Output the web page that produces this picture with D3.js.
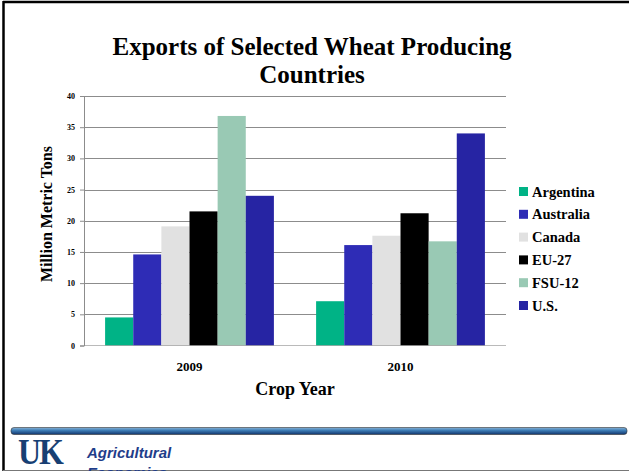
<!DOCTYPE html>
<html>
<head>
<meta charset="utf-8">
<script src="https://cdn.jsdelivr.net/npm/d3@7/dist/d3.min.js"></script>
<style>
  html, body { margin: 0; padding: 0; background: #fff; overflow: hidden; }
  svg { display: block; }
</style>
</head>
<body>
<svg id="chart" width="629" height="471"></svg>
<script>
// Wheat exports by crop year, million metric tons
const years = ["2009", "2010"];
const countries = ["Argentina", "Australia", "Canada", "EU-27", "FSU-12", "U.S."];
const exports2009 = [4.5, 14.6, 19.1, 21.5, 36.8, 24.0];
const exports2010 = [7.1, 16.1, 17.6, 21.2, 16.7, 34.0];
const yTicks = [0, 5, 10, 15, 20, 25, 30, 35, 40];
const colors = ["#00b386", "#2e2cb6", "#e1e1e1", "#000000", "#99c9b4", "#2624a3"];

const seriesByYear = { "2009": exports2009, "2010": exports2010 };

const svg = d3.select("#chart");
const serif = "'Liberation Serif', 'Times New Roman', serif";
const sans = "'Liberation Sans', Arial, sans-serif";

// Slide frame
svg.append("line").attr("x1", 3).attr("x2", 629).attr("y1", 2).attr("y2", 2)
  .attr("stroke", "#000").attr("stroke-width", 2.5);
svg.append("line").attr("x1", 3.5).attr("x2", 3.5).attr("y1", 1).attr("y2", 471)
  .attr("stroke", "#000").attr("stroke-width", 2.5);
svg.append("line").attr("x1", 3).attr("x2", 629).attr("y1", 470.5).attr("y2", 470.5)
  .attr("stroke", "#777").attr("stroke-width", 1);

// Plot area
const plot = { left: 84, right: 506, top: 96, bottom: 345.5 };

const y = d3.scaleLinear().domain([0, 40]).range([plot.bottom, plot.top]);
const x0 = d3.scaleBand().domain(years).range([plot.left, plot.right]).paddingInner(0.2).paddingOuter(0.1);
const x1 = d3.scaleBand().domain(countries).range([0, x0.bandwidth()]).padding(0);

// Gridlines
svg.append("g").selectAll("line").data(yTicks.filter(d => d > 0)).join("line")
  .attr("x1", plot.left).attr("x2", plot.right)
  .attr("y1", d => Math.round(y(d)) + 0.5).attr("y2", d => Math.round(y(d)) + 0.5)
  .attr("stroke", "#8c8c8c").attr("stroke-width", 1.2);

// Y axis
const yAxis = d3.axisLeft(y).tickValues(yTicks).tickSize(4).tickPadding(5);
const gy = svg.append("g").attr("transform", `translate(${plot.left},0)`).call(yAxis);
gy.select(".domain").attr("stroke", "#8c8c8c");
gy.selectAll(".tick line").attr("stroke", "#8c8c8c");
gy.selectAll(".tick text").attr("font-family", serif).attr("font-size", 8)
  .attr("font-weight", "bold").attr("fill", "#000");

// Bars
const groups = svg.append("g").selectAll("g").data(years).join("g")
  .attr("transform", d => `translate(${x0(d)},0)`);
groups.selectAll("rect")
  .data(yr => countries.map((c, i) => ({ country: c, value: seriesByYear[yr][i], color: colors[i] })))
  .join("rect")
  .attr("x", d => x1(d.country))
  .attr("width", x1.bandwidth())
  .attr("y", d => y(d.value))
  .attr("height", d => y(0) - y(d.value))
  .attr("fill", d => d.color);

// Baseline
svg.append("line").attr("x1", plot.left).attr("x2", plot.right)
  .attr("y1", plot.bottom).attr("y2", plot.bottom)
  .attr("stroke", "#8c8c8c").attr("stroke-width", 0.6);

// X axis labels
const xAxis = d3.axisBottom(x0).tickSize(0).tickPadding(16);
const gx = svg.append("g").attr("transform", `translate(0,${plot.bottom})`).call(xAxis);
gx.select(".domain").remove();
gx.selectAll(".tick text").attr("font-family", serif).attr("font-size", 13)
  .attr("font-weight", "bold").attr("fill", "#000");

// Titles
svg.append("text").attr("x", 312).attr("y", 55).attr("text-anchor", "middle")
  .attr("font-family", serif).attr("font-size", 25).attr("font-weight", "bold")
  .text("Exports of Selected Wheat Producing");
svg.append("text").attr("x", 312).attr("y", 83).attr("text-anchor", "middle")
  .attr("font-family", serif).attr("font-size", 25).attr("font-weight", "bold")
  .text("Countries");
svg.append("text").attr("x", 295).attr("y", 395).attr("text-anchor", "middle")
  .attr("font-family", serif).attr("font-size", 18).attr("font-weight", "bold")
  .text("Crop Year");
svg.append("text").attr("transform", "translate(52,214) rotate(-90)").attr("text-anchor", "middle")
  .attr("font-family", serif).attr("font-size", 16).attr("font-weight", "bold")
  .text("Million Metric Tons");

// Legend
const legend = svg.append("g").attr("transform", "translate(519,192)");
const li = legend.selectAll("g").data(countries).join("g")
  .attr("transform", (d, i) => `translate(0,${i * 22.8})`);
li.append("rect").attr("x", 0).attr("y", -5).attr("width", 9).attr("height", 9)
  .attr("fill", (d, i) => colors[i]);
li.append("text").attr("x", 13).attr("y", 4.5)
  .attr("font-family", serif).attr("font-size", 14.5).attr("font-weight", "bold")
  .text(d => d);

// Footer band
const defs = svg.append("defs");
const grad = defs.append("linearGradient").attr("id", "band").attr("x1", 0).attr("x2", 0).attr("y1", 0).attr("y2", 1);
grad.append("stop").attr("offset", "0%").attr("stop-color", "#8ab4d6");
grad.append("stop").attr("offset", "40%").attr("stop-color", "#3f7fb8");
grad.append("stop").attr("offset", "100%").attr("stop-color", "#10336b");
svg.append("rect").attr("x", 11).attr("y", 427.5).attr("width", 616).attr("height", 7)
  .attr("rx", 3).attr("fill", "url(#band)").attr("stroke", "#333").attr("stroke-width", 0.6);

// Footer logo and name
svg.append("text").attr("transform", "translate(18,464) scale(1,1.15)")
  .attr("font-family", serif).attr("font-size", 32).attr("font-weight", "bold")
  .attr("fill", "#173f73").attr("letter-spacing", -2)
  .text("UK");
svg.append("text").attr("x", 87).attr("y", 458)
  .attr("font-family", sans).attr("font-size", 15)
  .attr("font-weight", "bold").attr("font-style", "italic").attr("fill", "#1f3d8a")
  .text("Agricultural");
svg.append("text").attr("x", 87).attr("y", 478)
  .attr("font-family", sans).attr("font-size", 15)
  .attr("font-weight", "bold").attr("font-style", "italic").attr("fill", "#1f3d8a")
  .text("Economics");
</script>
</body>
</html>
